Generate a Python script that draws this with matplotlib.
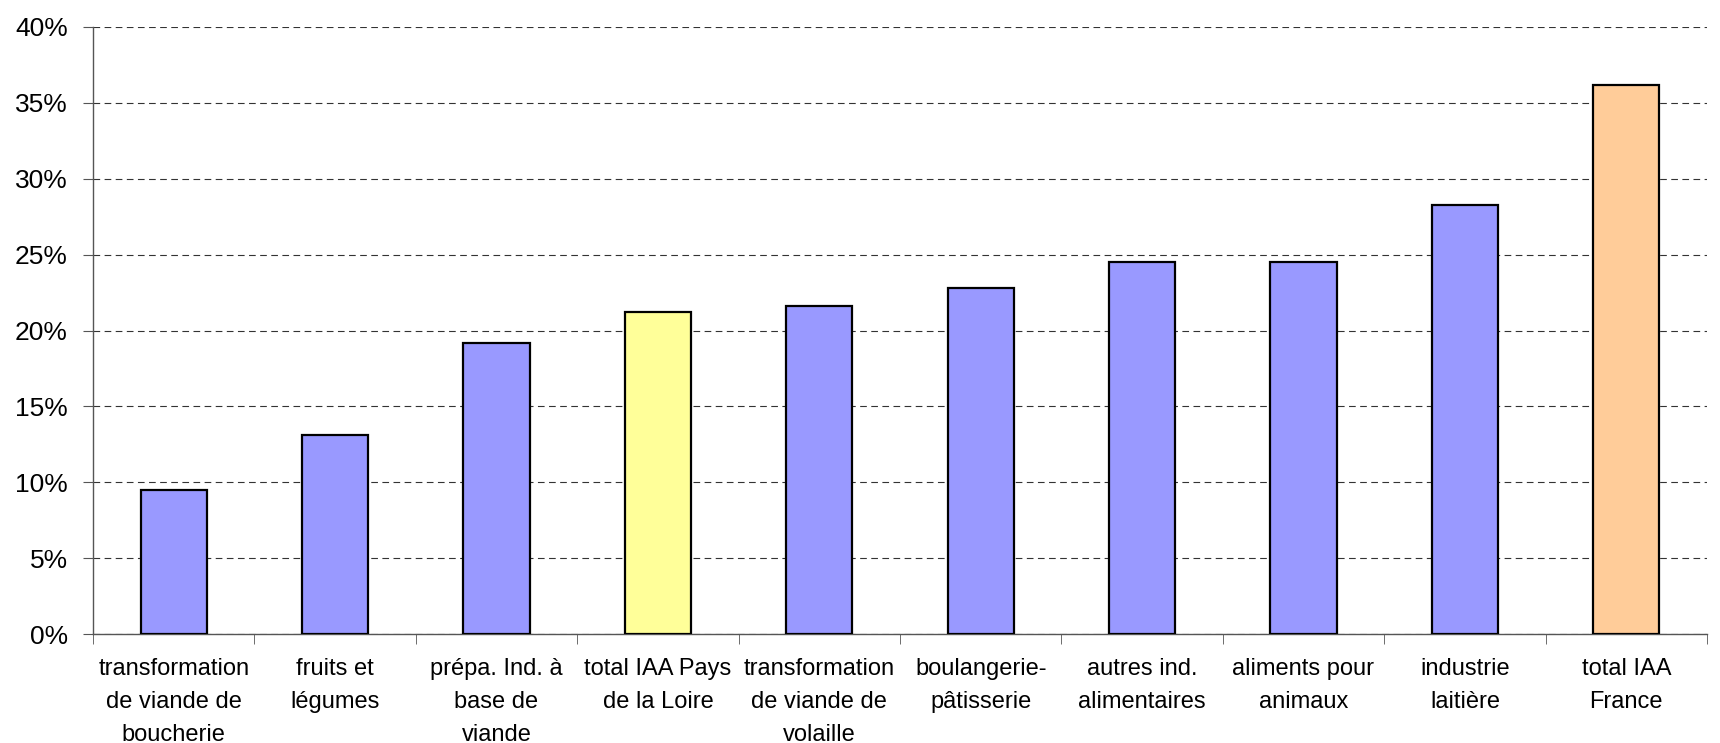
import matplotlib.pyplot as plt
import numpy as np

plt.rcParams['font.family'] = ['Liberation Sans', 'DejaVu Sans']

# data
categories = ['transformation\nde viande de\nboucherie', 'fruits et\nlégumes',
              'prépa. Ind. à\nbase de\nviande', 'total IAA Pays\nde la Loire',
              'transformation\nde viande de\nvolaille', 'boulangerie-\npâtisserie',
              'autres ind.\nalimentaires', 'aliments pour\nanimaux',
              'industrie\nlaitière', 'total IAA\nFrance']
values = [9.5, 13.1, 19.2, 21.2, 21.6, 22.8, 24.5, 24.5, 28.3, 36.2]
bar_colors = ['#9999FF', '#9999FF', '#9999FF', '#FFFF99', '#9999FF',
              '#9999FF', '#9999FF', '#9999FF', '#9999FF', '#FFCC99']
yticks = [0, 5, 10, 15, 20, 25, 30, 35, 40]

fig = plt.figure(figsize=(17.2, 7.43), dpi=100)
ax = fig.add_axes([93 / 1720, 1 - 634 / 743, (1707 - 93) / 1720, (634 - 27) / 743])

x = np.arange(len(categories))
ax.bar(x, values, width=0.41, color=bar_colors, edgecolor='black', linewidth=1.6, zorder=3)

ax.set_xlim(-0.5, len(categories) - 0.5)
ax.set_ylim(0, 40)
ax.set_yticks(yticks)
ax.set_yticklabels([str(v) + '%' for v in yticks], fontsize=19)
ax.yaxis.grid(True, linestyle=(0, (6, 4)), color='#333333', linewidth=0.8, zorder=0)

# category labels centred, tick marks at the boundaries
ax.set_xticks(x)
ax.set_xticklabels(categories, fontsize=17, linespacing=1.65)
ax.set_xticks(np.arange(-0.5, len(categories), 1), minor=True)
ax.tick_params(axis='x', which='major', length=0, pad=17)
ax.tick_params(axis='x', which='minor', length=7, color='#555555', direction='out')
ax.tick_params(axis='y', length=7, color='#555555', pad=11)

for s in ['top', 'right']:
    ax.spines[s].set_visible(False)
for s in ['left', 'bottom']:
    ax.spines[s].set_color('#555555')
    ax.spines[s].set_linewidth(1)

fig.savefig('out.png', dpi=100)
